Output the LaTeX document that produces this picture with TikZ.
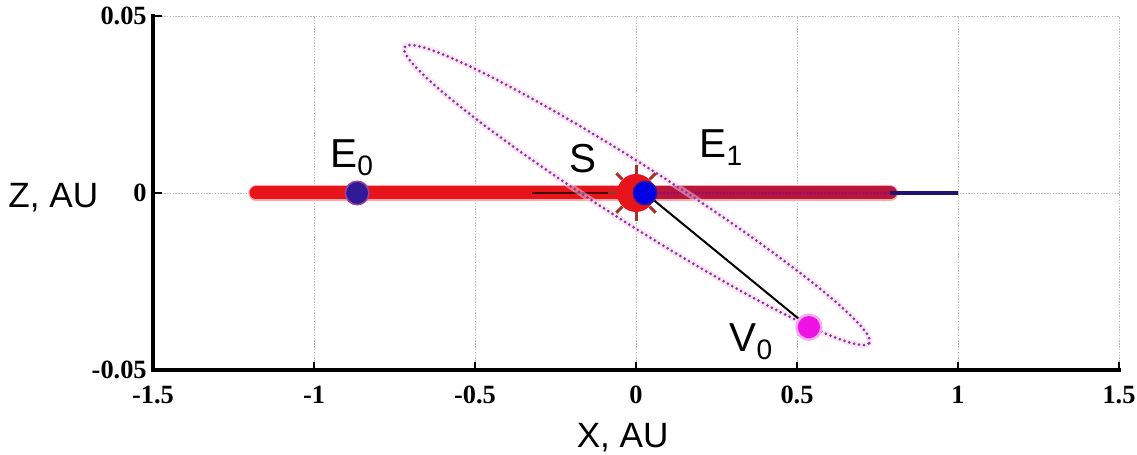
\documentclass[tikz,border=0pt]{standalone}
\usepackage{fontspec}
\setmainfont{Liberation Sans}
\newfontfamily\tickfont{Liberation Serif}
\usetikzlibrary{positioning}
\definecolor{sunred}{RGB}{232,20,28}
\definecolor{rayred}{RGB}{165,50,40}
\definecolor{crimson}{RGB}{185,22,62}
\definecolor{navy}{RGB}{28,20,110}
\definecolor{earthblue}{RGB}{48,26,150}
\definecolor{venusmag}{RGB}{238,18,228}
\definecolor{orbitpurple}{RGB}{128,58,160}
\newcommand{\sublbl}[2]{#1\raisebox{-4.5pt}{\fontsize{16}{16}\selectfont #2}}

\begin{document}
\begin{tikzpicture}[x=6.44cm, y=70.8cm, font=\fontsize{20}{24}\selectfont,
  grid/.style={gray!55, line width=0.5pt, dash pattern=on 0.8pt off 0.8pt},
  axisline/.style={line width=0.07cm, line cap=rect},
  tickmark/.style={line width=0.05cm},
  ticklbl/.style={font=\tickfont\bfseries\fontsize{15}{16}\selectfont, inner sep=0pt},
  lbl/.style={inner sep=0pt, anchor=base west},
  ptlbl/.style={lbl, font=\fontsize{23}{26}\selectfont},
  orbitline/.style={line width=0.26cm, line cap=round},
  orbitdots/.style={orbitpurple, line width=0.06cm, dash pattern=on 0pt off 0.1cm, line cap=round},
  planet/.style={circle, inner sep=0pt, minimum size=0.47cm}]
  \fill[white] (-1.9752,0.05452) rectangle (1.5559,-0.07401);
  \useasboundingbox (-1.9752,0.05452) rectangle (1.5559,-0.07401);

  \foreach \x in {-1,-0.5,0,0.5,1,1.5}
    \draw[grid] (\x,-0.05) -- (\x,0.05);
  \foreach \z in {0,0.05}
    \draw[grid] (-1.5,\z) -- (1.5,\z);

  \coordinate (orbL) at (-1.18,0);
  \coordinate (orbM) at (0,0);
  \coordinate (orbR) at (0.79,0);
  \coordinate (orbE) at (1,0);
  \coordinate (tail) at (-0.323,0);
  \draw[orbitline, red!35, line width=0.31cm] (orbL) -- (orbR);
  \draw[orbitline, sunred] (orbL) -- (orbM);
  \draw[orbitline, crimson] (orbM) -- (orbR);
  \draw[crimson!60!black!70!magenta, line width=0.06cm, dash pattern=on 0pt off 0.07cm, line cap=round] (orbM) -- (orbR);
  \draw[navy, line width=0.07cm] (orbR) -- (orbE);
  \draw[black!70!red, line width=0.05cm] (tail) -- (orbM);

  \coordinate (ctr) at (0.003,-0.0006);
  \draw[magenta!20, line width=0.12cm, opacity=0.5, rotate around={-32.5:(ctr)}] (ctr) ellipse [x radius=5.51cm, y radius=0.58cm];
  \draw[orbitdots, rotate around={-32.5:(ctr)}] (ctr) ellipse [x radius=5.51cm, y radius=0.58cm];

  \node[circle, fill=sunred, minimum size=0.76cm, inner sep=0pt] (sun) at (0,0) {};
  \foreach \a in {45,90,...,315}
    \draw[rayred, line width=0.06cm] (sun.\a) -- ++(\a:0.17cm);
  \node[planet, fill=blue!90!black, draw=earthblue, line width=0.03cm] (e1) at (0.028,0) {};
  \node[planet, fill=earthblue, draw=violet!75, line width=0.03cm] (e0) at (-0.866,0) {};
  \node[planet, fill=venusmag, draw=venusmag!35, line width=0.05cm, minimum size=0.5cm] (v0) at (0.537,-0.0379) {};
  \draw[black, line width=0.04cm] (e1) -- (v0);

  \coordinate (ytop) at (-1.5,0.05);
  \coordinate (corner) at (-1.5,-0.05);
  \coordinate (xend) at (1.5,-0.05);
  \draw[axisline] (ytop) -- (corner) -- (xend);
  \foreach \x in {-1,-0.5,0,0.5,1,1.5}
    \draw[tickmark] (\x,-0.05) -- ++(0,0.16cm);
  \foreach \z in {0,0.05}
    \draw[tickmark] (-1.5,\z) -- ++(0.18cm,0);
  \foreach \x in {-1.5,-1,-0.5,0,0.5,1,1.5}
    \node[ticklbl, below=0.32cm] at (\x,-0.05) {\x};
  \foreach \z in {0.05,0,-0.05}
    \node[ticklbl, left=0.12cm] at (-1.5,\z) {\z};

  \node[ptlbl] (e0lbl) at (-0.950,0.0071) {\sublbl{E}{0}};
  \node[ptlbl] (slbl) at (-0.208,0.0059) {S};
  \node[ptlbl] (e1lbl) at (0.197,0.0099) {\sublbl{E}{1}};
  \node[ptlbl] (v0lbl) at (0.290,-0.0449) {\sublbl{V}{0}};
  \node[lbl] (zlbl) at (-1.95,-0.0040) {Z, AU};
  \node[lbl] (xlbl) at (-0.185,-0.0720) {X, AU};
\end{tikzpicture}
\end{document}
